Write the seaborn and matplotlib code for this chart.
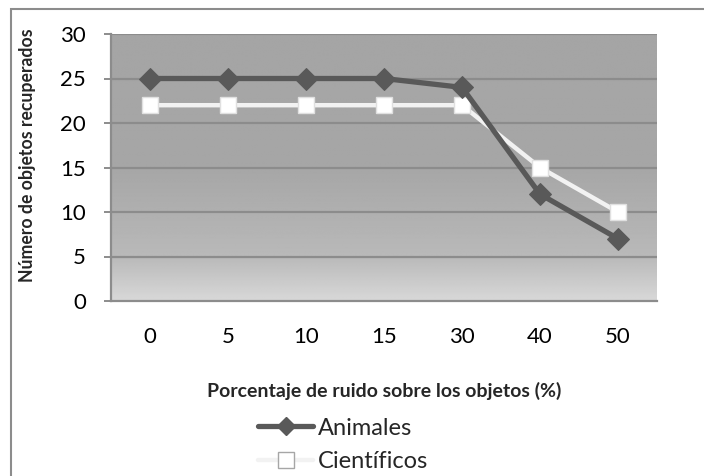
import numpy as np
import pandas as pd
import matplotlib
matplotlib.use("Agg")
import matplotlib.pyplot as plt
from matplotlib.patches import Rectangle
from matplotlib.lines import Line2D
import seaborn as sns

# Noise levels (%) and recovered object counts
niveles = ["0", "5", "10", "15", "30", "40", "50"]
animales = [25, 25, 25, 25, 24, 12, 7]
cientificos = [22, 22, 22, 22, 22, 15, 10]
yticks = [0, 5, 10, 15, 20, 25, 30]

sns.set_theme(style="white")
plt.rcParams["font.family"] = ["Lato", "DejaVu Sans"]

W, H = 704, 476
fig = plt.figure(figsize=(W / 100, H / 100), dpi=100)

# outer chart frame
fig.patches.append(Rectangle((11 / W, -0.05), 1.1, (467 / H) + 0.05,
                             transform=fig.transFigure, fill=False,
                             edgecolor="#8c8c8c", linewidth=1.5, zorder=0))

x0, x1, y0, y1 = 111, 657, 34, 301
ax = fig.add_axes([x0 / W, (H - y1) / H, (x1 - x0) / W, (y1 - y0) / H])

df = pd.DataFrame({"nivel": niveles, "Animales": animales,
                   "Científicos": cientificos})

# background gradient: flat gray above 15, lighter towards 0
yy = np.linspace(0, 30, 300)
vals = np.interp(yy, [0, 5, 15, 30], [0xd8, 0xb9, 0xa6, 0xa5]) / 255.0
grad = np.repeat(vals[:, None], 2, axis=1)
ax.imshow(grad, cmap="gray", vmin=0, vmax=1, origin="lower",
          extent=[-0.5, 6.5, 0, 30], aspect="auto", zorder=0,
          interpolation="bilinear")

for t in yticks[1:]:
    ax.axhline(t, color="#8c8c8c", linewidth=1.6, zorder=1)

sns.lineplot(data=df, x="nivel", y="Científicos", ax=ax, color="#f2f2f2",
             linewidth=3.2, marker="s", markersize=12,
             markerfacecolor="white", markeredgecolor="#e0e0e0",
             markeredgewidth=1, zorder=3)
sns.lineplot(data=df, x="nivel", y="Animales", ax=ax, color="#595959",
             linewidth=3.8, marker="D", markersize=11.5,
             markerfacecolor="#595959", markeredgecolor="#595959",
             zorder=4)

ax.set_xlim(-0.5, 6.5)
ax.set_ylim(0, 30)
ax.set_yticks(yticks)
ax.set_xlabel("")
ax.set_ylabel("")
for s in ["top", "right"]:
    ax.spines[s].set_visible(False)
ax.spines["left"].set_color("#8c8c8c")
ax.spines["left"].set_linewidth(1.6)
ax.spines["bottom"].set_color("#8c8c8c")
ax.spines["bottom"].set_linewidth(1.6)
ax.spines["left"].set_zorder(2)
ax.tick_params(axis="y", left=True, length=5, width=1.4, color="#8c8c8c",
               pad=13, labelsize=16, labelcolor="black")
ax.tick_params(axis="x", bottom=False, length=0, pad=19, labelsize=16,
               labelcolor="black")

fig.text(28 / W, 1 - 155 / H, "Número de objetos recuperados", rotation=90,
         ha="center", va="center", fontsize=12.7, fontweight="bold")
fig.text(384 / W, 1 - 391 / H, "Porcentaje de ruido sobre los objetos (%)",
         ha="center", va="center", fontsize=14, fontweight="bold")

handles = [
    Line2D([], [], color="#595959", linewidth=3.8, marker="D", markersize=9,
           markerfacecolor="#595959"),
    Line2D([], [], color="#f2f2f2", linewidth=3.2, marker="s", markersize=11,
           markerfacecolor="white", markeredgecolor="#a6a6a6",
           markeredgewidth=1),
]
fig.legend(handles, ["Animales", "Científicos"], loc="center left",
           bbox_to_anchor=(258 / W, 1 - 445 / H), frameon=False,
           fontsize=17, handlelength=2.35, handletextpad=0.2,
           labelspacing=0.55, borderpad=0, borderaxespad=0)

fig.savefig("out.png", dpi=100)
